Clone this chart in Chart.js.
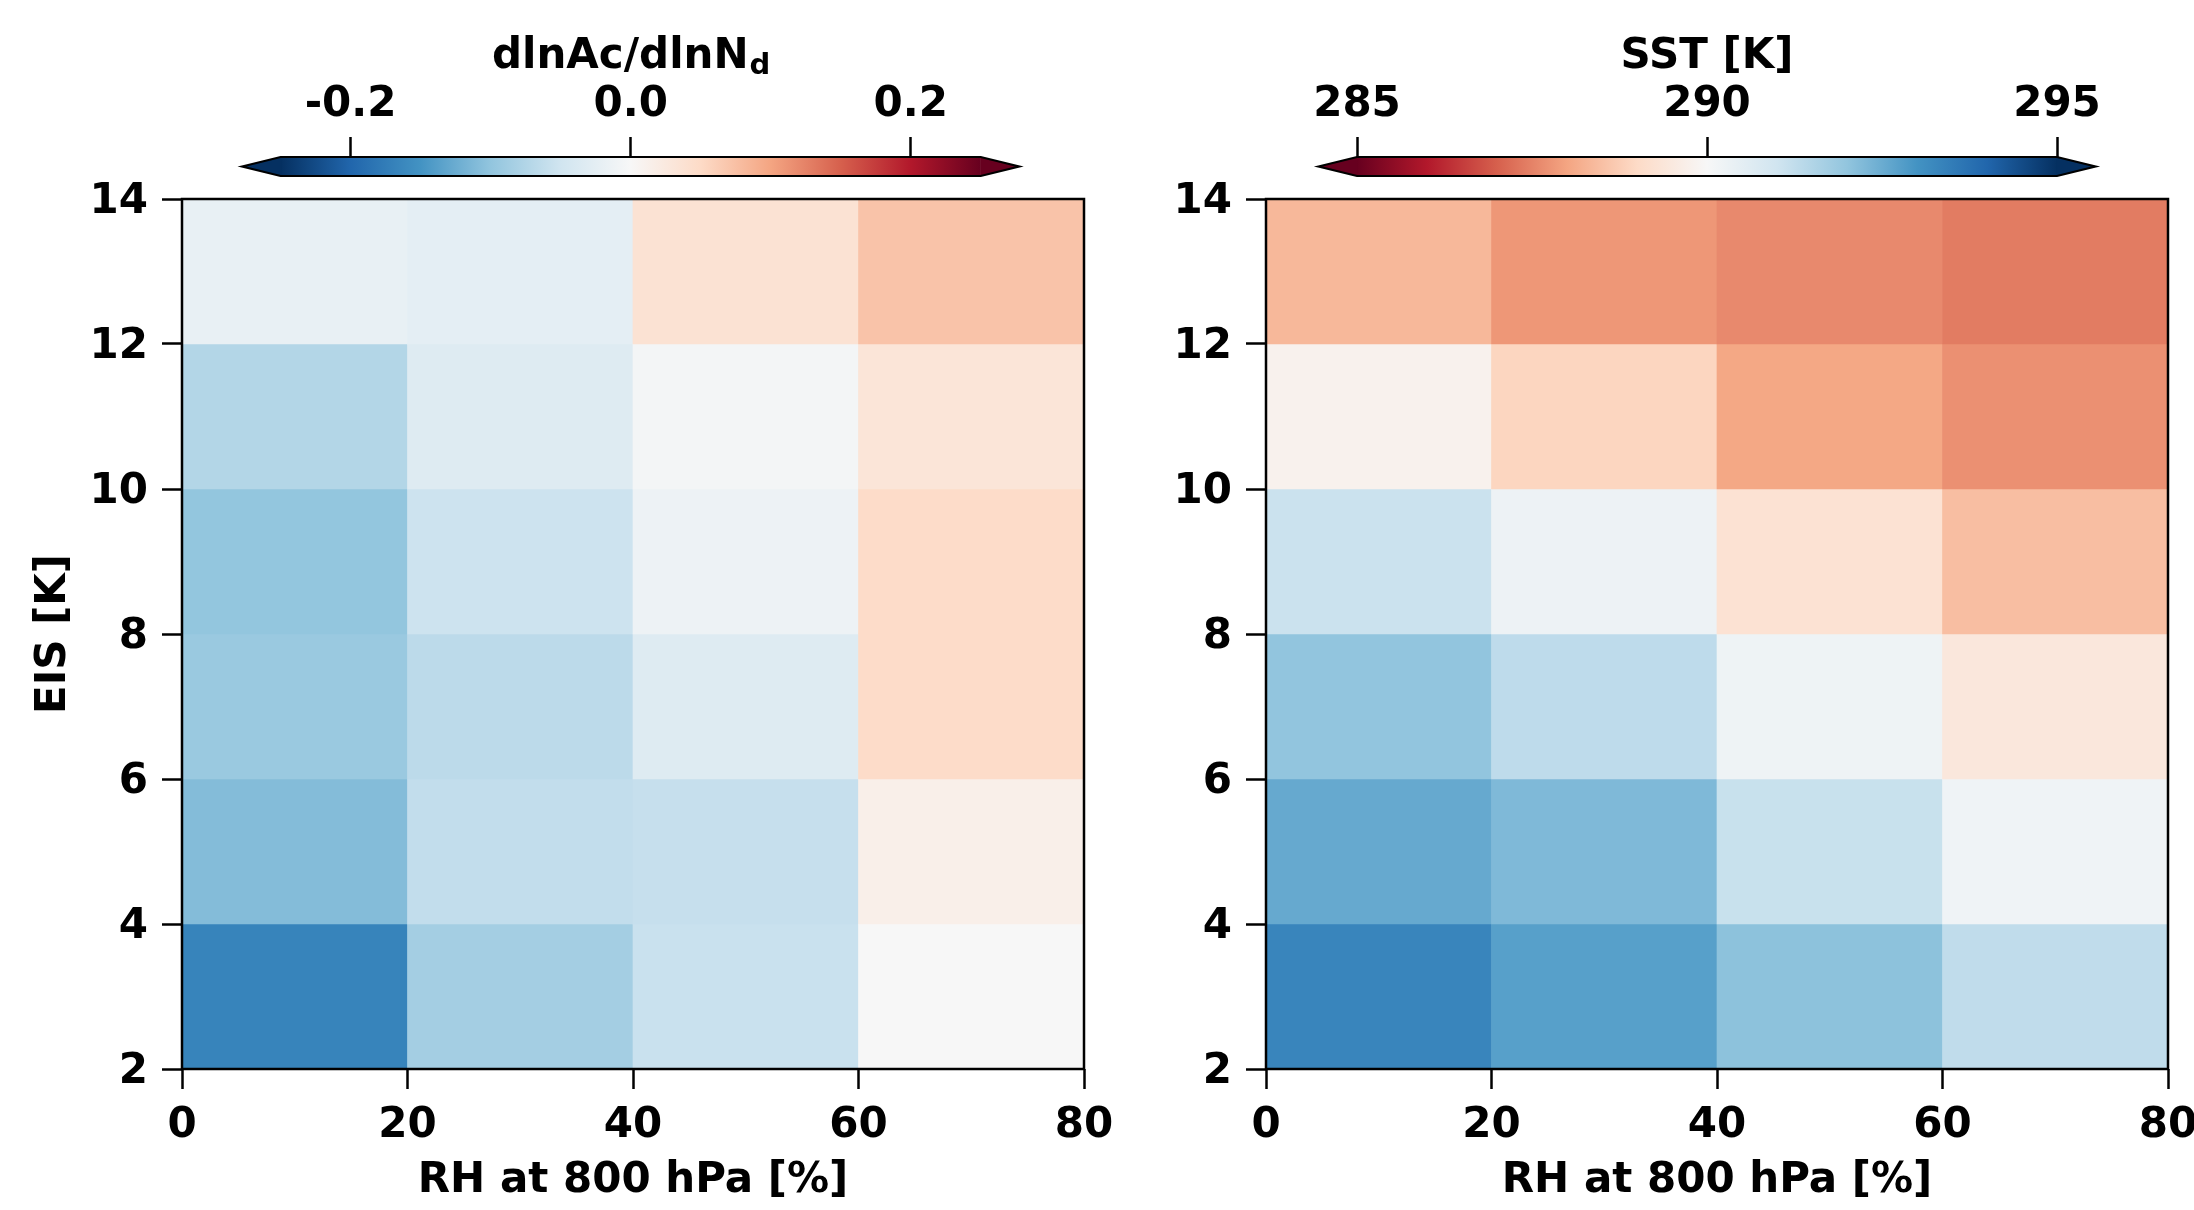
<!DOCTYPE html>
<html>
<head>
<meta charset="utf-8">
<script src="https://cdn.jsdelivr.net/npm/chart.js@4.4.0/dist/chart.umd.min.js"></script>
<style>
  html, body { margin: 0; padding: 0; background: #fff; overflow: hidden; width: 2194px; height: 1210px; }
  .box { position: absolute; }
</style>
</head>
<body>
<div class="box" style="left:200px;top:0px"><canvas id="cbLeft" width="860" height="200"></canvas></div>
<div class="box" style="left:1280px;top:0px"><canvas id="cbRight" width="860" height="200"></canvas></div>
<div class="box" style="left:0px;top:150px"><canvas id="mapLeft" width="1130" height="1060"></canvas></div>
<div class="box" style="left:1140px;top:150px"><canvas id="mapRight" width="1100" height="1060"></canvas></div>
<script>
// === bins and ticks ===
const rhEdges = [0, 20, 40, 60, 80];
const eisEdges = [2, 4, 6, 8, 10, 12, 14];
const rhTicks = [0, 20, 40, 60, 80];
const eisTicks = [2, 4, 6, 8, 10, 12, 14];

// dlnAc/dlnNd, one array per RH bin, EIS bins from low to high
const susRh0 = [-0.167, -0.109, -0.094, -0.099, -0.074, -0.020];
const susRh20 = [-0.086, -0.062, -0.067, -0.053, -0.033, -0.025];
const susRh40 = [-0.056, -0.059, -0.033, -0.013, -0.005, 0.037];
const susRh60 = [0.000, 0.015, 0.048, 0.048, 0.032, 0.072];

// mean SST [K], same layout
const sstRh0 = [293.3, 292.56, 292.0, 291.1, 289.8, 288.35];
const sstRh20 = [292.75, 292.24, 291.3, 290.26, 288.9, 287.8];
const sstRh40 = [292.06, 291.14, 290.24, 289.25, 288.05, 287.6];
const sstRh60 = [291.27, 290.2, 289.43, 288.46, 287.7, 287.4];

// colorbar ranges / ticks
const susRange = [-0.25, 0.25];
const sstRange = [285, 295];
const susTicks = [-0.2, 0.0, 0.2];
const susTickLabels = ["-0.2", "0.0", "0.2"];
const sstTicks = [285, 290, 295];
const sstTickLabels = ["285", "290", "295"];

const FONT = "DejaVu Sans";
Chart.defaults.font.family = FONT;
Chart.defaults.font.weight = "bold";
Chart.defaults.font.size = 42;
Chart.defaults.color = "#000";

// === RdBu colormap ===
const RDBU = ["#67001f", "#b2182b", "#d6604d", "#f4a582", "#fddbc7", "#f7f7f7",
              "#d1e5f0", "#92c5de", "#4393c3", "#2166ac", "#053061"];
const rgb = (h) => [1, 3, 5].map((i) => parseInt(h.slice(i, i + 2), 16));

function rdbu(t, reversed) {
  t = Math.min(1, Math.max(0, t));
  if (reversed) t = 1 - t;
  const p = t * (RDBU.length - 1);
  const i = Math.min(Math.floor(p), RDBU.length - 2);
  const f = p - i;
  const a = rgb(RDBU[i]), b = rgb(RDBU[i + 1]);
  const c = a.map((v, k) => Math.round(v + (b[k] - v) * f));
  return `rgb(${c[0]},${c[1]},${c[2]})`;
}

// === frame around the plot area ===
const frame = {
  id: "frame",
  afterDraw(chart) {
    const { ctx, chartArea: a } = chart;
    ctx.save();
    ctx.strokeStyle = "#000";
    ctx.lineWidth = 2.5;
    ctx.strokeRect(a.left, a.top, a.right - a.left, a.bottom - a.top);
    ctx.restore();
  },
};

function heatmap(id, columns, range, reversed, opts) {
  const cells = [];
  columns.forEach((col, j) => {
    col.forEach((v, i) => {
      cells.push({ x: [rhEdges[j], rhEdges[j + 1]], y: (eisEdges[i] + eisEdges[i + 1]) / 2, v });
    });
  });
  const colors = cells.map((c) => rdbu((c.v - range[0]) / (range[1] - range[0]), reversed));

  return new Chart(document.getElementById(id), {
    type: "bar",
    data: {
      datasets: [{
        data: cells,
        backgroundColor: colors,
        borderWidth: 0,
        barPercentage: 1,
        categoryPercentage: 1,
      }],
    },
    options: {
      indexAxis: "y",
      responsive: false,
      animation: false,
      layout: { padding: { top: 49, right: opts.padRight, left: 0, bottom: 0 } },
      plugins: { legend: { display: false }, tooltip: { enabled: false } },
      scales: {
        x: {
          type: "linear",
          min: rhEdges[0],
          max: rhEdges[rhEdges.length - 1],
          afterBuildTicks: (s) => { s.ticks = rhTicks.map((v) => ({ value: v })); },
          afterFit: (s) => { s.height = 141; },
          grid: { drawOnChartArea: false, tickLength: 20, tickWidth: 2.5, tickColor: "#000" },
          border: { display: false },
          ticks: { padding: 12, maxRotation: 0 },
          title: { display: true, text: "RH at 800 hPa [%]", padding: { top: 0, bottom: 4 } },
        },
        y: {
          type: "linear",
          offset: false,
          min: eisEdges[0],
          max: eisEdges[eisEdges.length - 1],
          afterBuildTicks: (s) => { s.ticks = eisTicks.map((v) => ({ value: v })); },
          afterFit: (s) => { s.width = opts.yWidth; },
          grid: { offset: false, drawOnChartArea: false, tickLength: 20, tickWidth: 2.5, tickColor: "#000" },
          border: { display: false },
          ticks: { padding: 14, labelOffset: 3 },
          title: { display: opts.yTitle, text: "EIS [K]", padding: { top: 29, bottom: 0 } },
        },
      },
    },
    plugins: [frame],
  });
}

// === colorbar with extension triangles ===
function colorbar(id, range, ticks, labels, reversed, title, sub, pad) {
  const cbPlugin = {
    id: "cbExtras",
    afterDatasetsDraw(chart) {
      const { ctx, chartArea: a, scales } = chart;
      const x0 = scales.x.getPixelForValue(range[0]);
      const x1 = scales.x.getPixelForValue(range[1]);
      const ext = (x1 - x0) * 0.055;
      const mid = (a.top + a.bottom) / 2;
      ctx.save();
      ctx.fillStyle = rdbu(0, reversed);
      ctx.beginPath();
      ctx.moveTo(x0 + 0.5, a.top); ctx.lineTo(x0 - ext, mid); ctx.lineTo(x0 + 0.5, a.bottom);
      ctx.closePath(); ctx.fill();
      ctx.fillStyle = rdbu(1, reversed);
      ctx.beginPath();
      ctx.moveTo(x1 - 0.5, a.top); ctx.lineTo(x1 + ext, mid); ctx.lineTo(x1 - 0.5, a.bottom);
      ctx.closePath(); ctx.fill();
      ctx.strokeStyle = "#000";
      ctx.lineWidth = 2.2;
      ctx.lineJoin = "miter";
      ctx.beginPath();
      ctx.moveTo(x0 - ext, mid);
      ctx.lineTo(x0, a.top); ctx.lineTo(x1, a.top); ctx.lineTo(x1 + ext, mid);
      ctx.lineTo(x1, a.bottom); ctx.lineTo(x0, a.bottom);
      ctx.closePath(); ctx.stroke();
      ctx.restore();
    },
    afterDraw(chart) {
      const { ctx, chartArea: a } = chart;
      const cx = (a.left + a.right) / 2;
      ctx.save();
      ctx.fillStyle = "#000";
      ctx.textBaseline = "alphabetic";
      ctx.textAlign = "left";
      ctx.font = `bold 42px "${FONT}"`;
      const w1 = ctx.measureText(title).width;
      ctx.font = `bold 29px "${FONT}"`;
      const w2 = sub ? ctx.measureText(sub).width : 0;
      const start = cx - (w1 + w2) / 2;
      ctx.font = `bold 42px "${FONT}"`;
      ctx.fillText(title, start, 68);
      if (sub) {
        ctx.font = `bold 29px "${FONT}"`;
        ctx.fillText(sub, start + w1 + 1, 74);
      }
      ctx.restore();
    },
  };

  return new Chart(document.getElementById(id), {
    type: "bar",
    data: {
      labels: ["cb"],
      datasets: [{
        data: [range.slice()],
        backgroundColor: (c) => {
          const chart = c.chart;
          if (!chart.chartArea) return "#fff";
          const xs = chart.scales.x;
          const g = chart.ctx.createLinearGradient(xs.getPixelForValue(range[0]), 0, xs.getPixelForValue(range[1]), 0);
          for (let i = 0; i < RDBU.length; i++) {
            const t = i / (RDBU.length - 1);
            g.addColorStop(t, rdbu(t, reversed));
          }
          return g;
        },
        borderWidth: 0,
        barPercentage: 1,
        categoryPercentage: 1,
      }],
    },
    options: {
      indexAxis: "y",
      responsive: false,
      animation: false,
      layout: { padding: { left: pad[0], right: pad[1], top: 0, bottom: 24 } },
      plugins: { legend: { display: false }, tooltip: { enabled: false } },
      scales: {
        x: {
          type: "linear",
          position: "top",
          min: range[0],
          max: range[1],
          afterBuildTicks: (s) => { s.ticks = ticks.map((v) => ({ value: v })); },
          afterFit: (s) => { s.height = 157; },
          grid: { drawOnChartArea: false, tickLength: 20, tickWidth: 2.5, tickColor: "#000" },
          border: { display: false },
          ticks: { padding: 7, maxRotation: 0, callback: (v, i) => labels[i] },
        },
        y: { display: false },
      },
    },
    plugins: [cbPlugin],
  });
}

colorbar("cbLeft", susRange, susTicks, susTickLabels, true, "dlnAc/dlnN", "d", [80.6, 79.3]);
colorbar("cbRight", sstRange, sstTicks, sstTickLabels, false, "SST [K]", "", [77, 83]);
heatmap("mapLeft", [susRh0, susRh20, susRh40, susRh60], susRange, true, { yWidth: 182, padRight: 46, yTitle: true });
heatmap("mapRight", [sstRh0, sstRh20, sstRh40, sstRh60], sstRange, false, { yWidth: 126, padRight: 72, yTitle: false });
</script>
</body>
</html>
